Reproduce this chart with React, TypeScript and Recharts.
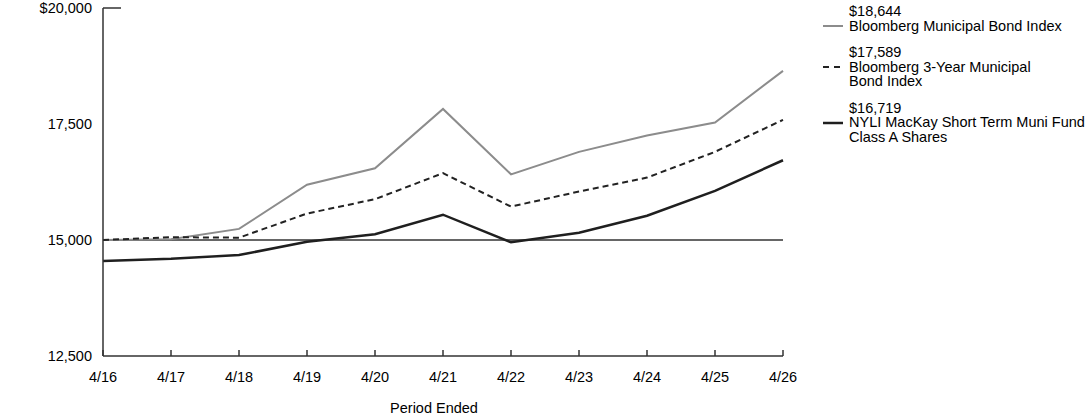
import { LineChart, Line, XAxis, YAxis, ReferenceLine } from "recharts";

const periods = ["4/16", "4/17", "4/18", "4/19", "4/20", "4/21", "4/22", "4/23", "4/24", "4/25", "4/26"];
const municipalIndex = [15000, 15015, 15240, 16190, 16545, 17825, 16415, 16900, 17250, 17532, 18644];
const threeYearIndex = [15000, 15060, 15050, 15570, 15880, 16440, 15720, 16045, 16345, 16900, 17589];
const fundClassA = [14550, 14595, 14675, 14962, 15123, 15545, 14950, 15155, 15522, 16060, 16719];
const yTicks = [12500, 15000, 17500, 20000];

const series = [
    { key: "municipal", values: municipalIndex, color: "#8c8c8c", dash: undefined, width: 2, label: ["$18,644", "Bloomberg Municipal Bond Index"] },
    { key: "threeYear", values: threeYearIndex, color: "#222222", dash: "6 4", width: 2, label: ["$17,589", "Bloomberg 3-Year Municipal", "Bond Index"] },
    { key: "fund", values: fundClassA, color: "#1f1f1f", dash: undefined, width: 2.5, label: ["$16,719", "NYLI MacKay Short Term Muni Fund", "Class A Shares"] },
];

const chartData = periods.map((p, i) => {
    const row: Record<string, string | number> = { period: p };
    series.forEach((s) => { row[s.key] = s.values[i]; });
    return row;
});

const FONT = "Arial, 'Liberation Sans', sans-serif";
const FS = 14.5;
const AXIS = "#333333";

const fmtY = (v: number) => (v === 20000 ? "$" : "") + v.toLocaleString("en-US");

function YTick(props: any) {
    const { x, y, payload } = props;
    return (
        <g>
            <text x={x} y={y} dy={5} textAnchor="end" fill="#000" fontSize={FS} fontFamily={FONT}>
                {fmtY(payload.value)}
            </text>
            {/* short stub at the top of the axis */}
            {payload.value === 20000 && <line x1={x + 11} x2={x + 29} y1={y} y2={y} stroke={AXIS} strokeWidth={1.5} />}
        </g>
    );
}

function XTick(props: any) {
    const { x, y, payload } = props;
    return (
        <g>
            <line x1={x} x2={x} y1={y - 6} y2={y} stroke={AXIS} strokeWidth={1.5} />
            <text x={x} y={y + 26} textAnchor="middle" fill="#000" fontSize={FS} fontFamily={FONT}>
                {payload.value}
            </text>
        </g>
    );
}

function LegendBox() {
    return (
        <div style={{ position: "absolute", left: 823, top: 4, fontFamily: FONT, fontSize: FS, lineHeight: "14.5px", color: "#000", whiteSpace: "nowrap" }}>
            {series.map((s) => (
                <div key={s.key} style={{ position: "relative", paddingLeft: 26, marginBottom: 12 }}>
                    <svg width={20} height={4} style={{ position: "absolute", left: 0, top: 20 }}>
                        <line x1={0} x2={20} y1={2} y2={2} stroke={s.color} strokeWidth={s.width} strokeDasharray={s.dash ? "6 5" : undefined} />
                    </svg>
                    {s.label.map((t, i) => (
                        <div key={i}>{t}</div>
                    ))}
                </div>
            ))}
        </div>
    );
}

export default function App() {
    return (
        <div style={{ position: "absolute", left: 0, top: 0, width: 1092, height: 417, background: "#fff" }}>
            <LineChart width={1092} height={417} data={chartData} margin={{ top: 8, right: 309, bottom: 0, left: 0 }}>
                <XAxis
                    dataKey="period"
                    stroke={AXIS}
                    strokeWidth={1.5}
                    tickLine={false}
                    tickSize={0}
                    tickMargin={0}
                    tick={<XTick />}
                    interval={0}
                    height={61}
                    label={{ value: "Period Ended", position: "insideBottom", offset: 4, dx: -9, fill: "#000", fontSize: FS, fontFamily: FONT }}
                />
                <YAxis
                    domain={[12500, 20000]}
                    ticks={yTicks}
                    width={103}
                    stroke={AXIS}
                    strokeWidth={1.5}
                    tickLine={false}
                    tickSize={0}
                    tickMargin={11}
                    tick={<YTick />}
                    interval={0}
                />
                <ReferenceLine y={15000} stroke={AXIS} strokeWidth={1.5} />
                {series.map((s) => (
                    <Line
                        key={s.key}
                        dataKey={s.key}
                        type="linear"
                        stroke={s.color}
                        strokeWidth={s.width}
                        strokeDasharray={s.dash}
                        dot={false}
                        activeDot={false}
                        isAnimationActive={false}
                    />
                ))}
            </LineChart>
            <LegendBox />
        </div>
    );
}
